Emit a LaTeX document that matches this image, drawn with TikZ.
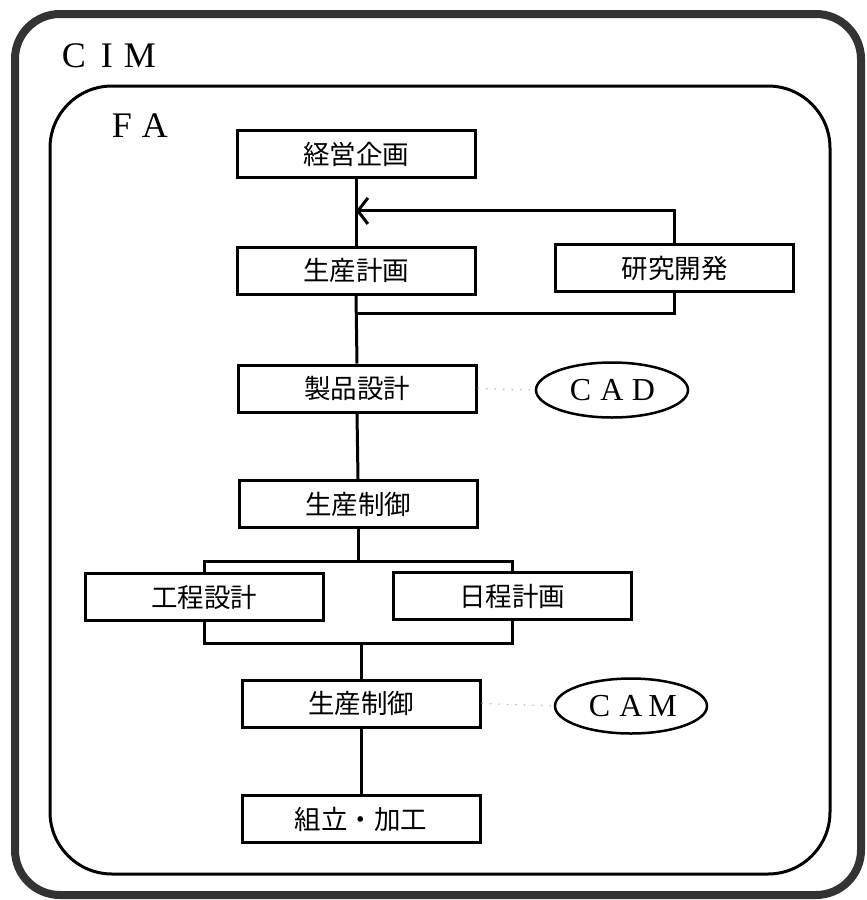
\documentclass[tikz,border=0pt]{standalone}
\usepackage{fontspec}
\setmainfont{Liberation Serif}
\newfontfamily\jpfont{Noto Sans CJK JP}
\usetikzlibrary{arrows.meta,shapes.geometric,calc}
\newcommand\lcell[2]{\makebox[#1]{#2}}
\begin{document}
\begin{tikzpicture}[x=1pt,y=-1pt,
  box/.style={draw, line width=3pt, minimum width=238pt, minimum height=47pt, inner sep=0pt, font=\jpfont\fontsize{26.5}{26.5}\selectfont},
  conn/.style={line width=3pt},
  oval/.style={draw, ellipse, line width=2.5pt, minimum width=152pt, minimum height=55pt, inner sep=0pt, font=\fontsize{32}{32}\selectfont},
  lbl/.style={anchor=base, inner sep=0pt, font=\fontsize{36}{36}\selectfont},
  faint/.style={gray!55, line width=1.2pt, dash pattern=on 1.5pt off 7pt}]
\useasboundingbox (0,0) rectangle (867,900);
% frames
\draw[line width=8pt, black!80, rounded corners=45pt] (15,14) rectangle (861,895);
\draw[line width=3pt, rounded corners=62pt] (50,86) rectangle (830,874);
\node[lbl] (cim) at (107,67) {\lcell{33pt}{C}\lcell{33pt}{I}\lcell{33pt}{M}};
\node[lbl] (fa) at (138.5,137) {\lcell{33pt}{F}\lcell{33pt}{A}};
% boxes
\node[box] (keiei) at (356,154) {経営企画};
\node[box] (seisan) at (356,270.5) {生産計画};
\node[box] (kenkyu) at (674.5,268) {研究開発};
\node[box] (seihin) at (357,388.5) {製品設計};
\node[box] (seigyoA) at (358,504) {生産制御};
\node[box] (kotei) at (204,597) {工程設計};
\node[box] (nittei) at (512,596) {日程計画};
\node[box] (seigyoB) at (361,703.5) {生産制御};
\node[box] (kumi) at (361,819) {組立・加工};
% ovals
\node[oval] (cad) at (612,390) {\lcell{31.5pt}{C}\lcell{31.5pt}{A}\lcell{31.5pt}{D}};
\node[oval] (cam) at (631,706) {\lcell{31.5pt}{C}\lcell{31.5pt}{A}\lcell{31.5pt}{M}};
% connectors
\coordinate (fb) at ($(keiei.south)!0.48!(seisan.north)$);
\coordinate (br) at ($(seisan.south)!0.26!(seihin.north)$);
\draw[conn] (keiei.south) -- (seisan.north);
\draw[conn, -{Straight Barb[length=10pt,width=26pt]}] (kenkyu.north) |- (fb);
\draw[conn] (seisan.south) -- (seihin.north);
\draw[conn] (kenkyu.south) |- (br);
\draw[conn] (seihin.south) -- (seigyoA.north);
\coordinate (jt) at (358,561);
\coordinate (jb) at (361,643);
\draw[conn] (seigyoA.south) -- (jt);
\draw[conn] (kotei.north) |- (jt) -| (nittei.north);
\draw[conn] (kotei.south) |- (jb) -| (nittei.south);
\draw[conn] (jb) -- (seigyoB.north);
\draw[conn] (seigyoB.south) -- (kumi.north);
\draw[faint] (seihin.east) -- (cad.west);
\draw[faint] (seigyoB.east) -- (cam.west);
\end{tikzpicture}
\end{document}
